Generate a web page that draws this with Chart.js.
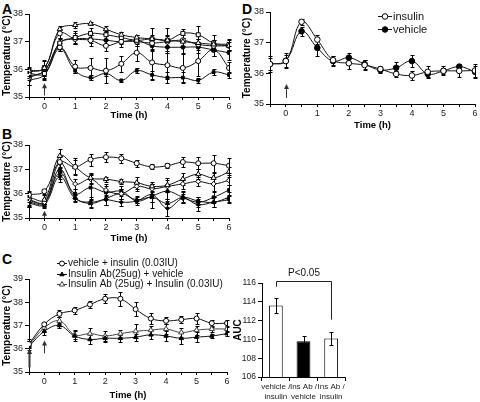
<!DOCTYPE html>
<html>
<head>
<meta charset="utf-8">
<script src="https://cdn.jsdelivr.net/npm/chart.js@4.4.1/dist/chart.umd.min.js"></script>
<style>
  html, body { margin: 0; padding: 0; background: #fff; }
  body { width: 480px; height: 402px; position: relative; overflow: hidden; font-family: "Liberation Sans", Arial, sans-serif; }
  .panel { position: absolute; }
  .tag { position: absolute; font-weight: bold; font-size: 14px; line-height: 14px; }
</style>
</head>
<body>
<div class="tag" style="left:2px;top:2px">A</div>
<div class="tag" style="left:242px;top:2px">D</div>
<div class="tag" style="left:2px;top:127px">B</div>
<div class="tag" style="left:2px;top:252px">C</div>

<div class="panel" style="left:0;top:0"><canvas id="chartA" width="240" height="122"></canvas></div>
<div class="panel" style="left:0;top:125px"><canvas id="chartB" width="240" height="120"></canvas></div>
<div class="panel" style="left:0;top:250px"><canvas id="chartC" width="232" height="152"></canvas></div>
<div class="panel" style="left:240px;top:0"><canvas id="chartD" width="240" height="132"></canvas></div>
<div class="panel" style="left:232px;top:250px"><canvas id="chartAuc" width="128" height="152"></canvas></div>

<script>
// time points (h) and tick labels
const times = [-0.5, 0, 0.5, 1, 1.5, 2, 2.5, 3, 3.5, 4, 4.5, 5, 5.5, 6];
const tempTicks = [35, 36, 37, 38];
const tempTicksC = [35, 36, 37, 38, 39];
const aucTicks = [106, 108, 110, 112, 114, 116];

// panel A
const a1 = [35.95, 36.05, 37.45, 37.6, 37.65, 37.45, 37.25, 37.15, 37.1, 37.05, 37.0, 36.95, 36.9, 36.85];
const a1Err = [0.1, 0.1, 0.1, 0.1, 0.05, 0.1, 0.1, 0.1, 0.15, 0.2, 0.15, 0.15, 0.15, 0.15];
const a2 = [35.85, 35.85, 36.95, 37.15, 37.3, 37.25, 37.15, 37.05, 37.1, 37.05, 37.3, 37.25, 36.95, 36.9];
const a2Err = [0.15, 0.15, 0.2, 0.25, 0.2, 0.15, 0.2, 0.2, 0.4, 0.45, 0.15, 0.3, 0.3, 0.2];
const a3 = [35.9, 36.05, 37.3, 37.1, 37.05, 36.85, 37.0, 37.0, 36.95, 37.0, 37.05, 36.9, 36.85, 36.85];
const a3Err = [0.2, 0.3, 0.15, 0.2, 0.2, 0.2, 0.2, 0.15, 0.2, 0.2, 0.2, 0.2, 0.2, 0.2];
const a4 = [35.75, 35.95, 36.95, 37.1, 37.1, 37.05, 37.0, 37.05, 36.85, 36.8, 36.8, 36.8, 36.7, 36.6];
const a4Err = [0.15, 0.2, 0.15, 0.15, 0.15, 0.15, 0.1, 0.1, 0.2, 0.2, 0.2, 0.2, 0.2, 0.25];
const a5 = [35.7, 35.95, 36.8, 36.1, 36.05, 35.95, 36.2, 36.6, 36.25, 36.15, 36.05, 36.3, 36.7, 36.05];
const a5Err = [0.25, 0.35, 0.15, 0.25, 0.35, 0.45, 0.3, 0.3, 0.65, 0.5, 0.5, 0.55, 0.2, 0.2];
const a6 = [35.6, 35.8, 36.75, 35.95, 35.7, 35.85, 35.6, 35.95, 35.8, 35.7, 35.7, 35.6, 35.9, 35.8];
const a6Err = [0.15, 0.15, 0.1, 0.1, 0.1, 0.1, 0.05, 0.1, 0.15, 0.2, 0.2, 0.1, 0.1, 0.1];

// panel B
const b1 = [35.95, 36.1, 37.3, 37.1, 37.4, 37.5, 37.45, 37.25, 37.1, 37.15, 37.3, 37.25, 37.25, 37.15];
const b1Err = [0.15, 0.1, 0.25, 0.35, 0.25, 0.2, 0.2, 0.15, 0.1, 0.1, 0.2, 0.25, 0.35, 0.3];
const b2 = [35.85, 35.75, 37.55, 37.1, 36.65, 36.6, 36.5, 36.45, 36.3, 36.35, 36.6, 36.8, 36.65, 36.9];
const b2Err = [0.2, 0.2, 0.3, 0.3, 0.2, 0.1, 0.1, 0.25, 0.2, 0.3, 0.25, 0.2, 0.2, 0.2];
const b3 = [35.75, 35.65, 37.25, 36.4, 36.6, 36.15, 36.0, 36.3, 36.2, 36.3, 36.4, 36.5, 36.4, 36.55];
const b3Err = [0.2, 0.15, 0.3, 0.2, 0.2, 0.25, 0.2, 0.2, 0.2, 0.25, 0.2, 0.2, 0.3, 0.2];
const b4 = [35.7, 35.65, 36.85, 36.0, 36.25, 36.05, 36.1, 35.7, 35.9, 36.1, 35.85, 35.65, 35.85, 36.15];
const b4Err = [0.2, 0.15, 0.25, 0.2, 0.5, 0.25, 0.2, 0.15, 0.5, 0.3, 0.25, 0.2, 0.2, 0.2];
const b5 = [35.6, 35.55, 36.7, 35.8, 35.65, 35.75, 35.65, 35.7, 35.95, 35.4, 35.8, 35.55, 35.65, 35.75];
const b5Err = [0.15, 0.15, 0.2, 0.15, 0.2, 0.2, 0.15, 0.1, 0.3, 0.3, 0.2, 0.25, 0.2, 0.15];
const b6 = [35.65, 35.6, 37.0, 35.85, 35.6, 35.8, 36.0, 35.75, 35.85, 35.6, 35.85, 35.7, 35.65, 35.85];
const b6Err = [0.2, 0.15, 0.25, 0.15, 0.2, 0.25, 0.2, 0.15, 0.2, 0.2, 0.2, 0.15, 0.2, 0.2];

// panel C
const cLabels = ['vehicle + insulin (0.03IU)', 'Insulin Ab(25ug) + vehicle', 'Insulin Ab (25ug) + Insulin (0.03IU)'];
const c1 = [36.2, 37.05, 37.5, 37.65, 37.9, 38.15, 38.15, 37.7, 37.3, 37.2, 37.25, 37.3, 37.1, 37.1];
const c1Err = [0.15, 0.1, 0.15, 0.15, 0.15, 0.2, 0.3, 0.3, 0.25, 0.15, 0.15, 0.25, 0.15, 0.15];
const c2 = [36.1, 36.75, 37.0, 36.55, 36.4, 36.45, 36.45, 36.5, 36.6, 36.55, 36.45, 36.5, 36.55, 36.65];
const c2Err = [0.3, 0.15, 0.1, 0.2, 0.2, 0.15, 0.15, 0.15, 0.2, 0.2, 0.25, 0.2, 0.1, 0.1];
const c3 = [36.15, 36.9, 37.2, 36.6, 36.65, 36.55, 36.65, 36.75, 36.8, 36.85, 36.7, 36.8, 36.85, 36.85];
const c3Err = [0.2, 0.15, 0.15, 0.2, 0.25, 0.2, 0.15, 0.3, 0.2, 0.2, 0.2, 0.2, 0.15, 0.15];

// AUC bars
const aucLabels = [['vehicle /', 'insulin'], ['Ins Ab /', 'vehicle'], ['Ins Ab /', 'insulin']];
const auc = [113.6, 109.8, 110.1];
const aucErr = [0.8, 0.6, 0.65];

// panel D
const dIns = [36.3, 36.4, 37.68, 37.1, 36.43, 36.33, 36.27, 36.14, 35.98, 35.93, 36.05, 36.08, 36.08, 36.09];
const dInsErr = [0.2, 0.2, 0.1, 0.15, 0.15, 0.2, 0.15, 0.1, 0.1, 0.15, 0.2, 0.15, 0.2, 0.2];
const dVeh = [36.3, 36.41, 37.37, 36.83, 36.4, 36.51, 36.3, 36.11, 36.18, 36.4, 35.98, 36.08, 36.22, 36.05];
const dVehErr = [0.25, 0.25, 0.15, 0.25, 0.15, 0.15, 0.15, 0.1, 0.2, 0.2, 0.1, 0.1, 0.1, 0.2];

// injection arrows: [time, from, to, width]
const arrowsA = [[0, 35.05, 35.5]];
const arrowsB = [[0, 35.0, 35.3]];
const arrowsC = [[-0.5, 35.2, 36.0, 2], [0, 35.8, 36.35]];
const arrowsD = [[0, 35.2, 35.65]];

const FONT = '"Liberation Sans", Arial, sans-serif';
Chart.defaults.font.family = FONT;
Chart.defaults.color = '#222';

function drawErrors(chart) {
  const ctx = chart.ctx, ys = chart.scales.y;
  ctx.save();
  ctx.strokeStyle = '#000';
  ctx.lineWidth = 1;
  chart.data.datasets.forEach((ds, i) => {
    if (!ds.errors) return;
    chart.getDatasetMeta(i).data.forEach((el, j) => {
      const raw = ds.data[j];
      const v = typeof raw === 'object' ? raw.y : raw;
      const e = ds.errors[j];
      const x = Math.round(el.x) + 0.5;
      const t = Math.round(ys.getPixelForValue(v + e)) + 0.5;
      const b = Math.round(ys.getPixelForValue(v - e)) + 0.5;
      ctx.beginPath();
      ctx.moveTo(x, t); ctx.lineTo(x, b);
      ctx.moveTo(x - 2, t); ctx.lineTo(x + 2, t);
      ctx.moveTo(x - 2, b); ctx.lineTo(x + 2, b);
      ctx.stroke();
    });
  });
  ctx.restore();
}

const errorBars = {
  id: 'errorBars',
  beforeDatasetsDraw(chart, args, opts) { if (!opts.front) drawErrors(chart); },
  afterDatasetsDraw(chart, args, opts) { if (opts.front) drawErrors(chart); }
};

const arrows = {
  id: 'arrows',
  afterDatasetsDraw(chart, args, opts) {
    const ctx = chart.ctx, xs = chart.scales.x, ys = chart.scales.y;
    (opts.items || []).forEach(a => {
      const x = Math.round(xs.getPixelForValue(a[0])) + 0.5;
      const y0 = ys.getPixelForValue(a[1]), y1 = ys.getPixelForValue(a[2]);
      ctx.save();
      ctx.strokeStyle = '#333';
      ctx.fillStyle = '#333';
      ctx.lineWidth = a[3] || 1;
      ctx.beginPath(); ctx.moveTo(x, y0); ctx.lineTo(x, y1 + 3); ctx.stroke();
      ctx.beginPath(); ctx.moveTo(x, y1); ctx.lineTo(x - 2.5, y1 + 5); ctx.lineTo(x + 2.5, y1 + 5); ctx.closePath(); ctx.fill();
      ctx.restore();
    });
  }
};

const inlineLegend = {
  id: 'inlineLegend',
  afterDraw(chart, args, opts) {
    if (!opts.x) return;
    const ctx = chart.ctx;
    chart.data.datasets.forEach((ds, i) => {
      const x = opts.x, y = Math.round(opts.y + i * opts.gap) + 0.5;
      ctx.save();
      ctx.strokeStyle = ds.borderColor;
      ctx.lineWidth = 1;
      ctx.beginPath(); ctx.moveTo(x, y); ctx.lineTo(x + opts.len, y); ctx.stroke();
      ctx.fillStyle = ds.pointBackgroundColor;
      ctx.strokeStyle = ds.pointBorderColor;
      Chart.helpers.drawPoint(ctx, { pointStyle: ds.pointStyle, radius: ds.pointRadius, borderWidth: 1, rotation: 0 }, x + opts.len / 2, y);
      ctx.fillStyle = '#111';
      ctx.font = opts.font;
      ctx.textBaseline = 'middle';
      ctx.textAlign = 'left';
      ctx.fillText(ds.label, x + opts.len + 1, y);
      ctx.restore();
    });
  }
};

const bracket = {
  id: 'bracket',
  afterDraw(chart, args, o) {
    if (!o.text) return;
    const ctx = chart.ctx, xs = chart.scales.x, ys = chart.scales.y;
    const x0 = Math.round(xs.getPixelForValue(o.from)) + 0.5, x1 = Math.round(xs.getPixelForValue(o.to)) + 0.5;
    const yTop = Math.round(ys.getPixelForValue(o.level)) + 0.5;
    ctx.save();
    ctx.strokeStyle = '#222';
    ctx.lineWidth = 1;
    ctx.beginPath();
    ctx.moveTo(x0, ys.getPixelForValue(o.leftEnd));
    ctx.lineTo(x0, yTop); ctx.lineTo(x1, yTop);
    ctx.lineTo(x1, ys.getPixelForValue(o.rightEnd));
    ctx.stroke();
    ctx.fillStyle = '#111';
    ctx.font = '10px ' + FONT;
    ctx.textAlign = 'center';
    ctx.textBaseline = 'middle';
    ctx.fillText(o.text, (x0 + x1) / 2, ys.getPixelForValue(o.textAt));
    ctx.restore();
  }
};

function series(label, vals, errs, style, fill, radius, color) {
  return {
    label: label,
    data: vals.map((v, i) => ({ x: times[i], y: v })),
    errors: errs,
    borderColor: color || '#111',
    borderWidth: 1,
    pointStyle: style,
    pointRadius: radius || 2.5,
    pointBackgroundColor: fill,
    pointBorderColor: color || '#000',
    pointBorderWidth: 1,
    tension: 0.4,
    fill: false
  };
}

function timeAxis(h) {
  return {
    type: 'linear', min: -0.5, max: 6,
    afterBuildTicks: s => { s.ticks = times.map(v => ({ value: v })); },
    afterFit: s => { s.height = h; },
    ticks: { font: { size: 9 }, padding: 1, autoSkip: false, maxRotation: 0, color: '#222',
      callback: v => Number.isInteger(v) ? String(v) : '' },
    grid: { drawOnChartArea: false, tickLength: 3, color: '#000' },
    border: { color: '#000' },
    title: { display: true, text: 'Time (h)', color: '#000', font: { size: 9.5, weight: 'bold' }, padding: { top: 0, bottom: 1 } }
  };
}

function tempAxis(ticks, w) {
  return {
    type: 'linear', min: ticks[0], max: ticks[ticks.length - 1],
    afterBuildTicks: s => { s.ticks = ticks.map(v => ({ value: v })); },
    afterFit: s => { s.width = w; },
    ticks: { font: { size: 9 }, padding: 2, color: '#222' },
    grid: { drawOnChartArea: false, tickLength: 4, color: '#000' },
    border: { color: '#000' },
    title: { display: true, text: 'Temperature (°C)', color: '#000', font: { size: 10, weight: 'bold' }, padding: { top: 1, bottom: 0 } }
  };
}

function lineChart(id, datasets, yTicks, yW, xH, pad, extra) {
  return new Chart(document.getElementById(id), {
    type: 'line',
    data: { datasets: datasets },
    options: {
      responsive: false, animation: false, devicePixelRatio: 1,
      layout: { padding: pad },
      scales: { x: timeAxis(xH), y: tempAxis(yTicks, yW) },
      plugins: Object.assign({ legend: { display: false }, tooltip: { enabled: false } }, extra)
    },
    plugins: [errorBars, arrows, inlineLegend]
  });
}

// Panel A
lineChart('chartA', [
  series('A1', a1, a1Err, 'triangle', '#fff', 3),
  series('A2', a2, a2Err, 'rect', '#fff', 2.8),
  series('A3', a3, a3Err, 'circle', '#fff', 2.5),
  series('A4', a4, a4Err, 'circle', '#000', 2),
  series('A5', a5, a5Err, 'circle', '#fff', 2.5),
  series('A6', a6, a6Err, 'rect', '#000', 2)
], tempTicks, 29, 25, { top: 14, right: 11 }, { arrows: { items: arrowsA } });

// Panel B
lineChart('chartB', [
  series('B1', b1, b1Err, 'circle', '#fff', 2.5),
  series('B2', b2, b2Err, 'triangle', '#fff', 3),
  series('B3', b3, b3Err, 'rectRot', '#fff', 2.5),
  series('B4', b4, b4Err, 'rect', '#000', 2),
  series('B5', b5, b5Err, 'rectRot', '#000', 2),
  series('B6', b6, b6Err, 'triangle', '#000', 2.5)
], tempTicks, 29, 27, { top: 20, right: 11 }, { arrows: { items: arrowsB } });

// Panel C
lineChart('chartC', [
  series(cLabels[0], c1, c1Err, 'circle', '#fff', 2.5),
  series(cLabels[1], c2, c2Err, 'triangle', '#000', 2.5),
  series(cLabels[2], c3, c3Err, 'triangle', '#fff', 3, '#444')
], tempTicksC, 29, 30, { top: 29, right: 3 }, {
  arrows: { items: arrowsC },
  inlineLegend: { x: 57, y: 13, gap: 10.5, len: 10, font: '10px ' + FONT }
});

// Panel D
lineChart('chartD', [
  series('insulin', dIns, dInsErr, 'circle', '#fff', 2.8),
  series('vehicle', dVeh, dVehErr, 'circle', '#000', 2.8)
], tempTicks, 30, 28, { top: 12, right: 4 }, {
  arrows: { items: arrowsD },
  inlineLegend: { x: 138, y: 16, gap: 12.5, len: 14, font: '11px ' + FONT }
});

// AUC bar chart
new Chart(document.getElementById('chartAuc'), {
  type: 'bar',
  data: {
    labels: aucLabels,
    datasets: [{
      data: auc, errors: aucErr,
      backgroundColor: ['#fff', '#000', '#fff'],
      borderColor: '#000', borderWidth: 1,
      barPercentage: 0.5, categoryPercentage: 1
    }]
  },
  options: {
    responsive: false, animation: false, devicePixelRatio: 1,
    layout: { padding: { top: 33, right: 15 } },
    scales: {
      x: {
        afterFit: s => { s.height = 25; },
        ticks: { font: { size: 8 }, padding: 1, maxRotation: 0, autoSkip: false, color: '#222' },
        grid: { drawOnChartArea: false, tickLength: 4, color: '#000', offset: true },
        border: { color: '#000' }
      },
      y: {
        min: 106, max: 116,
        afterBuildTicks: s => { s.ticks = aucTicks.map(v => ({ value: v })); },
        afterFit: s => { s.width = 30; },
        ticks: { font: { size: 8.5 }, padding: 2, color: '#222' },
        grid: { drawOnChartArea: false, tickLength: 4, color: '#000' },
        border: { color: '#000' },
        title: { display: true, text: 'AUC', color: '#000', font: { size: 10, weight: 'bold' }, padding: { top: 0, bottom: 0 } }
      }
    },
    plugins: {
      legend: { display: false }, tooltip: { enabled: false },
      errorBars: { front: true },
      bracket: { text: 'P<0.05', from: 0, to: 2, level: 116.2, leftEnd: 115.6, rightEnd: 112.1, textAt: 117.05 }
    }
  },
  plugins: [errorBars, bracket]
});
</script>
</body>
</html>
